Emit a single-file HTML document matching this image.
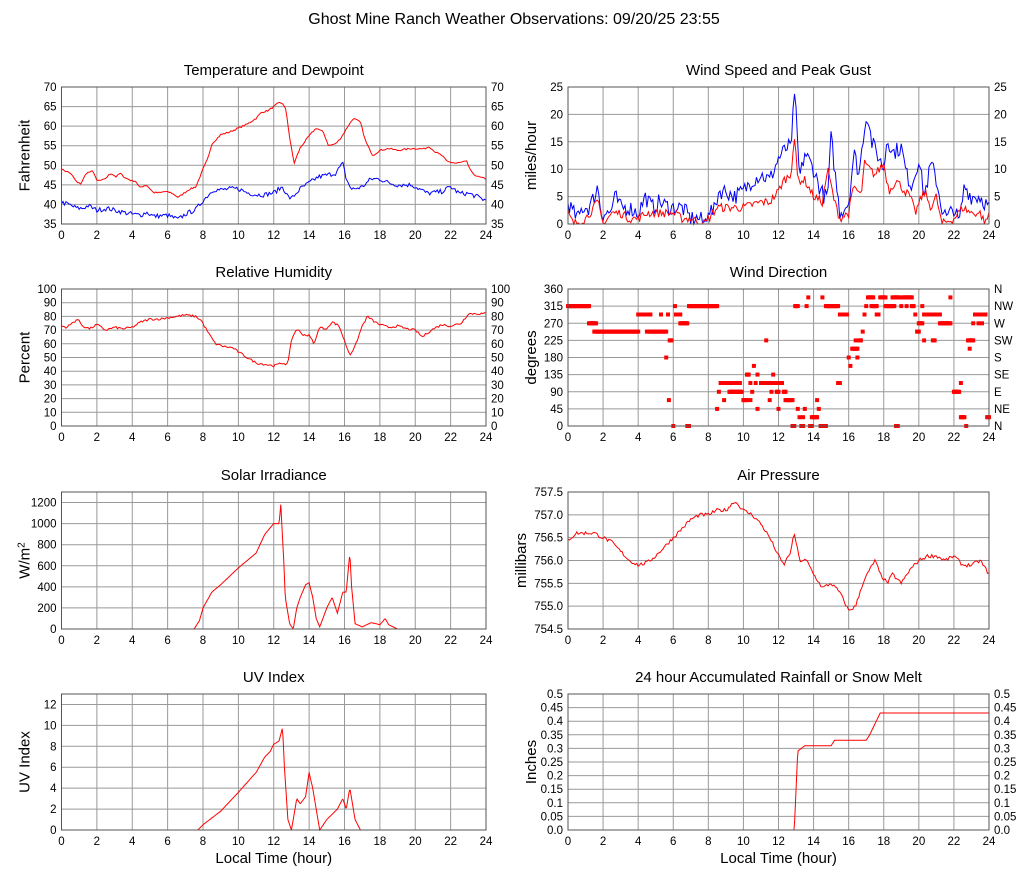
<!DOCTYPE html>
<html><head><meta charset="utf-8"><style>
body{margin:0;background:#fff;}
svg{display:block;font-family:"Liberation Sans",sans-serif;}
</style></head><body>
<svg id="s" width="1027" height="878" xmlns="http://www.w3.org/2000/svg"></svg>
<script>
var S=document.getElementById('s'),out='';
var seed=7;function rnd(){seed=(seed*16807)%2147483647;return seed/2147483647;}
function interp(k,t){for(var i=0;i<k.length-1;i++){if(t>=k[i][0]&&t<=k[i+1][0]){var a=k[i],b=k[i+1];var f=(b[0]==a[0])?0:(t-a[0])/(b[0]-a[0]);return a[1]+f*(b[1]-a[1]);}}return t<k[0][0]?k[0][1]:k[k.length-1][1];}
function txt(x,y,s,sz,anc,extra){out+='<text x="'+x+'" y="'+y+'" font-size="'+sz+'" text-anchor="'+(anc||'middle')+'" fill="#000" '+(extra||'')+'>'+s+'</text>';}
function panel(P){
 var x0=P.x,y0=P.y,w=P.w,h=P.h;
 out+='<rect x="'+x0+'" y="'+y0+'" width="'+w+'" height="'+h+'" fill="#fff"/>';
 for(var i=1;i<12;i++){var gx=x0+w*i/12;out+='<line x1="'+gx+'" y1="'+y0+'" x2="'+gx+'" y2="'+(y0+h)+'" stroke="#999"/>';}
 for(var v=P.min;v<=P.max+1e-9;v+=P.step){var gy=y0+h-(v-P.min)/(P.max-P.min)*h;
  if(v>P.min+1e-9&&v<P.max-1e-9)out+='<line x1="'+x0+'" y1="'+gy+'" x2="'+(x0+w)+'" y2="'+gy+'" stroke="#999"/>';
  var lab=P.fmt?P.fmt(v):Math.round(v*100)/100;
  if(!P.noLeft)txt(x0-5,gy+4,lab,11.5,'end');
  if(P.right)txt(x0+w+5,gy+4,P.rl?P.rl[Math.round((v-P.min)/P.step)]:lab,11.5,'start');
 }
 for(var i=0;i<=12;i++)txt(x0+w*i/12,y0+h+15,i*2,11.5);
 txt(x0+w/2,y0-12,P.title,15);
 var yl=x0-(P.yo||32);out+='<text x="'+yl+'" y="'+(y0+h/2)+'" font-size="15" text-anchor="middle" transform="rotate(-90 '+yl+' '+(y0+h/2)+')">'+P.ylab+'</text>';
 if(P.xlab)txt(x0+w/2,y0+h+33,'Local Time (hour)',15);
 function X(t){return x0+t/24*w;}function Y(v){v=Math.max(P.min,Math.min(P.max,v));return y0+h-(v-P.min)/(P.max-P.min)*h;}
 (P.series||[]).forEach(function(s){var d='';for(var t=0;t<=24.0001;t+=s.dt||0.0833){var v=interp(s.k,t)+(s.n?(rnd()-0.5)*2*s.n:0);if(s.pos)v=Math.max(0,v);d+=(d?'L':'M')+X(t).toFixed(1)+' '+Y(v).toFixed(1);}
  out+='<path d="'+d+'" fill="none" stroke="'+s.c+'" stroke-width="1"/>';});
 if(P.dots)P.dots.forEach(function(g){for(var t=g[0];t<=g[1]+1e-6;t+=0.05){out+='<rect x="'+(X(t)-2).toFixed(1)+'" y="'+(Y(g[2])-2).toFixed(1)+'" width="4" height="4" fill="#f00"/>';}});
 out+='<rect x="'+x0+'" y="'+y0+'" width="'+w+'" height="'+h+'" fill="none" stroke="#555"/>';
}
var LX=61.5,LW=424.5,RX=568,RW=421,H=137;
txt(514,24,'Ghost Mine Ranch Weather Observations: 09/20/25 23:55',16);
panel({x:LX,y:87,w:LW,h:H,min:35,max:70,step:5,right:1,title:'Temperature and Dewpoint',ylab:'Fahrenheit',series:[
{c:'#f00',n:0.2,k:[[0,49],[0.5,48],[0.9,45.5],[1.1,45.3],[1.4,48],[1.8,48.5],[2.0,46],[2.4,46.3],[2.8,48],[3.1,47],[3.3,48],[3.6,46.8],[4,46],[4.2,46],[4.4,44.3],[4.8,45],[5.2,43],[5.6,43],[5.8,43.3],[6.2,43],[6.6,41.8],[7.2,43.8],[7.6,44.5],[8,49],[8.3,52],[8.5,55.5],[9,57.8],[9.5,58.5],[10,59.5],[10.5,60.5],[11,62],[11.3,63.5],[11.7,64],[12,65],[12.3,66],[12.5,65.8],[12.7,64],[12.9,57],[13.15,50.5],[13.5,54.5],[14,57.5],[14.4,59.5],[14.8,58.5],[15.1,55],[15.5,55.5],[15.8,57],[16.2,60],[16.5,62],[16.9,61],[17.2,56],[17.6,52.5],[18,53.8],[18.5,54.3],[19,53.8],[19.8,54.3],[20.5,54.2],[20.8,54.8],[21.1,53.5],[21.5,52.5],[21.8,51],[22.3,50.5],[22.9,51],[23.2,48],[23.6,47],[24,46.5]]},
{c:'#00f',n:0.6,k:[[0,40.5],[0.4,40],[0.9,39],[1.2,39],[1.5,39.7],[2,38.5],[2.6,39],[3.2,38.3],[4,37.5],[4.5,37.3],[4.8,38],[5.2,37],[6.0,37.2],[6.6,36.2],[7,37.5],[7.6,38.7],[8,41],[8.6,43.8],[9,43.7],[9.5,44],[10,44],[10.5,43],[11,42.5],[11.5,42.5],[12,43],[12.5,44.5],[12.8,42],[13,41.5],[13.5,44],[14,45.5],[14.5,47],[15,47.5],[15.5,48],[15.9,50.5],[16.1,46.5],[16.4,43.8],[17,44.5],[17.5,46.5],[18,46.5],[18.5,45.5],[19,45],[19.8,45],[20.3,43.8],[20.7,42.8],[21,43],[21.5,43.3],[22,44.5],[22.5,42.8],[23,42.8],[23.5,42],[24,41]]}]});
panel({x:RX,y:87,w:RW,h:H,min:0,max:25,step:5,right:1,title:'Wind Speed and Peak Gust',ylab:'miles/hour',series:[
{c:'#00f',n:1.5,pos:1,k:[[0,4],[0.3,2],[0.6,1],[0.8,3],[1.2,3],[1.5,5],[1.7,7],[1.9,2],[2.4,2],[2.7,5],[3,3],[3.5,3],[4,2],[4.4,5],[4.8,3],[5.2,4],[5.8,3],[6.5,3],[7,1],[7.5,1],[7.8,0],[8,3],[8.3,2],[8.6,6],[9,6],[9.5,5],[10,6],[10.5,8],[11,9],[11.5,8],[12,12],[12.5,14],[12.75,14],[12.85,24],[13,20],[13.2,8],[13.5,13],[14,10],[14.3,7],[14.6,5],[14.8,5],[15,16],[15.3,7],[15.5,2],[16,4],[16.3,13],[16.6,9],[16.9,18],[17.1,20],[17.3,15],[17.6,13],[18,10],[18.2,16],[18.5,13],[19,14],[19.3,9],[19.6,7],[20,12],[20.3,5],[20.7,11],[21,8],[21.3,3],[21.6,1],[22,3],[22.3,0],[22.6,7],[23,5],[23.5,5],[24,3]]},
{c:'#f00',n:0.8,pos:1,k:[[0,2],[0.3,0],[1,1],[1.7,4],[2,0],[2.5,2],[3,2],[3.5,1],[4,1],[4.5,2],[5,2],[6,2],[6.5,1],[7,1],[7.8,0],[8.5,3],[9.5,3],[10,3],[11,4],[11.5,4],[12,6],[12.3,8],[12.7,9],[12.9,16],[13.1,8],[13.5,8],[14,5],[14.5,4],[14.8,10],[15.2,4],[15.5,1],[16,2],[16.3,7],[16.7,5],[16.9,11],[17.5,9],[18,11],[18.3,6],[18.7,8],[19.2,6],[19.5,5],[19.8,2],[20.3,6],[20.7,3],[21,5],[21.3,0],[22,1],[22.5,3],[23,2],[23.5,2],[23.8,0],[24,2]]}]});
panel({x:LX,y:289,w:LW,h:H,min:0,max:100,step:10,right:1,title:'Relative Humidity',ylab:'Percent',series:[
{c:'#f00',n:0.8,k:[[0,73],[0.3,72],[0.9,78],[1.2,73],[1.6,71],[2,74],[2.5,70],[3,72],[3.5,71],[4,72],[4.5,76],[5,78],[5.5,78],[6,79],[6.5,80],[7,81],[7.6,80],[7.9,77],[8.3,68],[8.7,60],[9.2,58],[9.7,57],[10,54],[10.5,50],[11,46],[11.5,45],[12,44],[12.5,46],[12.8,45],[13.0,63],[13.3,71],[13.6,67],[14,66],[14.3,60],[14.6,73],[14.9,70],[15.3,76],[15.7,73],[16,62],[16.3,52],[16.6,58],[17,73],[17.3,80],[17.7,76],[18,74],[18.5,72],[19,73],[19.5,71],[20,70],[20.4,65],[20.9,70],[21.5,74],[22,73],[22.6,75],[23,82],[24,82]]}]});
panel({x:RX,y:289,w:RW,h:H,min:0,max:360,step:45,right:1,rl:['N','NE','E','SE','S','SW','W','NW','N'],title:'Wind Direction',ylab:'degrees',dots:[[0,1.2,315],[1.2,1.6,270],[1.5,4,248],[4,4.7,293],[4.5,4.5,248],[4.6,5.6,248],[5.3,5.3,293],[5.7,5.7,293],[5.6,5.6,180],[5.8,5.9,225],[5.75,5.75,68],[6,6,0],[6.1,6.1,315],[6.15,6.4,293],[6.4,6.8,270],[6.8,6.9,0],[6.9,8.5,315],[8.5,8.5,45],[8.6,8.6,90],[8.7,9.8,113],[8.9,8.9,68],[9.2,9.9,90],[10,10.2,68],[10.2,10.3,135],[10.4,10.4,113],[10.4,10.4,68],[10.5,10.5,90],[10.6,10.6,158],[10.7,10.7,113],[10.8,10.8,135],[10.8,10.8,45],[11,11.5,113],[11.3,11.3,225],[11.5,11.5,68],[11.6,11.6,90],[11.7,11.7,135],[11.7,11.9,113],[11.9,12,90],[12,12,45],[12.1,12.2,113],[12.3,12.4,90],[12.4,12.8,68],[12.8,12.9,0],[12.95,13.1,315],[13.1,13.1,45],[13.2,13.2,23],[13.3,13.4,0],[13.4,13.4,23],[13.5,13.5,45],[13.6,13.6,315],[13.7,13.7,338],[13.8,13.9,0],[13.9,14.2,23],[14.2,14.2,68],[14.3,14.3,45],[14.4,14.7,0],[14.5,14.5,338],[14.7,15.4,315],[15.4,15.5,113],[15.5,15.9,293],[16,16,180],[16.1,16.1,158],[16.2,16.5,203],[16.4,16.4,225],[16.5,16.5,180],[16.6,16.7,225],[16.8,16.8,248],[16.9,16.9,293],[17,17,315],[17.1,17.4,338],[17.3,17.6,315],[17.6,17.7,293],[17.8,18.1,338],[18.1,18.6,315],[18.5,18.9,338],[18.7,18.8,0],[19,19,315],[19.1,19.6,338],[19.3,19.3,315],[19.6,19.7,315],[19.8,19.8,293],[19.9,20,248],[20,20.2,270],[20.2,20.2,315],[20.3,20.3,225],[20.3,20.9,293],[20.8,20.9,225],[21.1,21.2,293],[21.2,21.8,270],[21.8,21.8,338],[22,22.3,90],[22.4,22.4,113],[22.4,22.6,23],[22.7,22.7,0],[22.8,22.9,225],[22.9,22.9,203],[22.9,23.1,225],[23.1,23.1,270],[23.2,23.8,293],[23.4,23.4,270],[23.6,23.6,270],[23.9,24,23]]});
panel({x:LX,y:492,w:LW,h:H,min:0,max:1300,step:200,title:'Solar Irradiance',ylab:'W/m<tspan dy="-5" font-size="10">2</tspan>',series:[
{c:'#f00',n:0,dt:0.04,k:[[0,0],[7.5,0],[7.8,80],[8,200],[8.5,350],[9,420],[10,580],[11,720],[11.5,900],[12,1000],[12.3,1000],[12.4,1180],[12.55,700],[12.65,300],[12.9,50],[13.1,0],[13.3,200],[13.5,300],[13.8,420],[14,440],[14.2,300],[14.4,100],[14.6,20],[15,200],[15.3,300],[15.6,150],[15.9,350],[16.1,350],[16.3,720],[16.4,400],[16.6,50],[17,20],[17.5,60],[17.8,50],[18,40],[18.3,100],[18.5,40],[19,0],[24,0]]}]});
panel({x:RX,y:492,w:RW,h:H,min:754.5,max:757.5,step:0.5,yo:42,fmt:function(v){return v.toFixed(1);},title:'Air Pressure',ylab:'millibars',series:[
{c:'#f00',n:0.04,k:[[0,756.45],[0.5,756.6],[1.5,756.6],[2,756.5],[2.5,756.4],[3,756.2],[3.5,756.0],[4,755.9],[4.5,755.95],[5,756.1],[5.5,756.3],[6,756.5],[6.5,756.7],[7,756.9],[7.5,757.0],[8,757.0],[8.5,757.1],[9,757.1],[9.5,757.3],[10,757.1],[10.5,757.0],[11,756.8],[11.5,756.5],[12,756.1],[12.3,755.9],[12.7,756.2],[12.9,756.6],[13.2,756.0],[13.6,756.0],[14,755.7],[14.5,755.4],[15,755.5],[15.5,755.3],[16,754.9],[16.4,755.0],[16.8,755.5],[17.2,755.8],[17.5,756.0],[17.8,755.7],[18.2,755.5],[18.5,755.7],[19,755.5],[19.5,755.8],[20,756.0],[20.5,756.1],[21,756.1],[21.5,756.0],[22,756.1],[22.5,755.9],[23,755.9],[23.5,756.0],[24,755.7]]}]});
panel({x:LX,y:694,w:LW,h:H-1,min:0,max:13,step:2,xlab:1,title:'UV Index',ylab:'UV Index',series:[
{c:'#f00',n:0,dt:0.04,k:[[0,0],[7.7,0],[8,0.5],[9,1.8],[10,3.6],[11,5.5],[11.5,7],[11.8,7.5],[12,8.2],[12.3,8.5],[12.5,9.8],[12.6,6],[12.8,1],[13,0],[13.3,3],[13.5,2.5],[13.8,3.2],[14,5.5],[14.2,4],[14.4,2],[14.6,0],[15,1],[15.3,1.5],[15.6,2],[15.9,3],[16.1,2],[16.3,4],[16.6,1],[16.9,0],[24,0]]}]});
panel({x:RX,y:694,w:RW,h:H-1,min:0,max:0.5,step:0.05,right:1,xlab:1,fmt:function(v){var r=Math.round(v*100)/100;return r==0?'0.0':(r==0.5?'0.5':r);},rl:['0.0','0.05','0.1','0.15','0.2','0.25','0.3','0.35','0.4','0.45','0.5'],title:'24 hour Accumulated Rainfall or Snow Melt',ylab:'Inches',series:[
{c:'#f00',n:0,dt:0.04,k:[[0,0],[12.9,0],[13.1,0.29],[13.5,0.31],[15,0.31],[15.2,0.33],[17,0.33],[17.2,0.35],[17.8,0.43],[24,0.43]]}]});
S.innerHTML=out;
</script>
</body></html>
